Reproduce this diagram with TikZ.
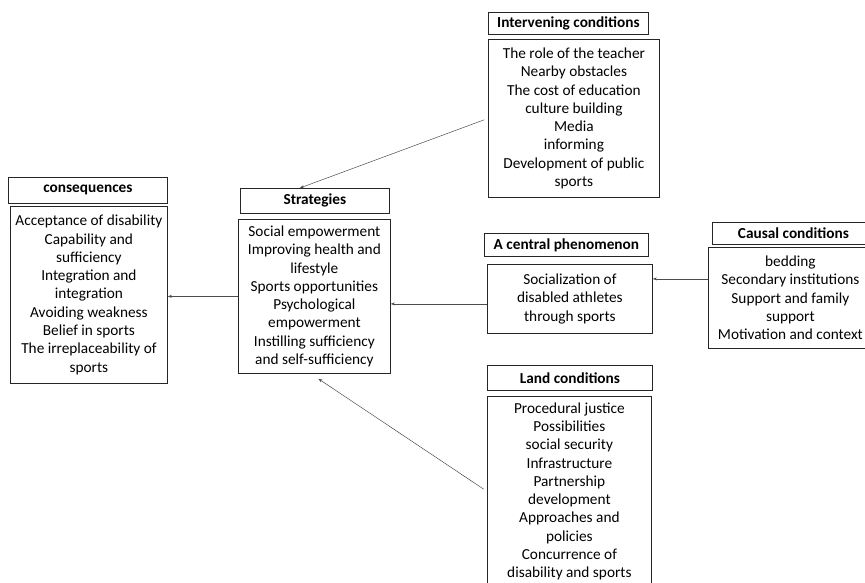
\documentclass[tikz,border=0pt]{standalone}
\usepackage{fontspec}
\setmainfont{Carlito}
\usetikzlibrary{arrows.meta}
\begin{document}
\begin{tikzpicture}[x=1pt,y=-1pt,
	box/.style={draw=black!85, line width=0.8pt, anchor=north west, inner sep=0pt, align=center, font=\fontsize{15.3}{18.3}\selectfont},
	head/.style={box, font=\fontsize{15.3}{17}\selectfont\bfseries},
	link/.style={draw=black!70, line width=0.5pt, -{Stealth[length=4pt,width=3pt]}}]
	\useasboundingbox (0,0) rectangle (865,583);
	\node[head, minimum width=160, minimum height=22] (intervhead) at (488,12) {Intervening conditions};
	\node[box, minimum width=171, minimum height=158] (intervbody) at (488,39) {The role of the teacher\\Nearby obstacles\\The cost of education\\culture building\\Media\\informing\\Development of public\\sports};
	\node[head, minimum width=149, minimum height=25] (strathead) at (240,188) {Strategies};
	\node[box, minimum width=152, minimum height=154] (stratbody) at (238,219) {Social empowerment\\Improving health and\\lifestyle\\Sports opportunities\\Psychological\\empowerment\\Instilling sufficiency\\and self-sufficiency};
	\node[head, minimum width=159, minimum height=26] (conshead) at (8,177) {consequences};
	\node[box, minimum width=157, minimum height=177] (consbody) at (10,206) {Acceptance of disability\\Capability and\\sufficiency\\Integration and\\integration\\Avoiding weakness\\Belief in sports\\The irreplaceability of\\sports};
	\node[head, minimum width=164, minimum height=23] (centralhead) at (484,233) {A central phenomenon};
	\node[box, minimum width=165, minimum height=69] (centralbody) at (487,264) {Socialization of\\disabled athletes\\through sports};
	\node[head, minimum width=162, minimum height=22] (causalhead) at (712,222) {Causal conditions};
	\node[box, minimum width=164, minimum height=101] (causalbody) at (708,247) {bedding\\Secondary institutions\\Support and family\\support\\Motivation and context};
	\node[head, minimum width=165, minimum height=25] (landhead) at (487,365) {Land conditions};
	\node[box, minimum width=164, minimum height=190] (landbody) at (487,396) {Procedural justice\\Possibilities\\social security\\Infrastructure\\Partnership\\development\\Approaches and\\policies\\Concurrence of\\disability and sports};
	\draw[link, shorten <=4pt] (intervbody.west) -- ([xshift=-15pt]strathead.north);
	\draw[link, shorten <=4pt] (landbody.west) -- ([xshift=4pt,yshift=-5pt]stratbody.south);
	\draw[link] ([yshift=-5pt]centralbody.west) -- ([yshift=-5pt]centralbody.west -| stratbody.east);
	\draw[link] ([yshift=19pt]causalbody.west) -- ([yshift=19pt]causalbody.west -| centralbody.east);
	\draw[link] (stratbody.west) -- (stratbody.west -| consbody.east);
\end{tikzpicture}
\end{document}
